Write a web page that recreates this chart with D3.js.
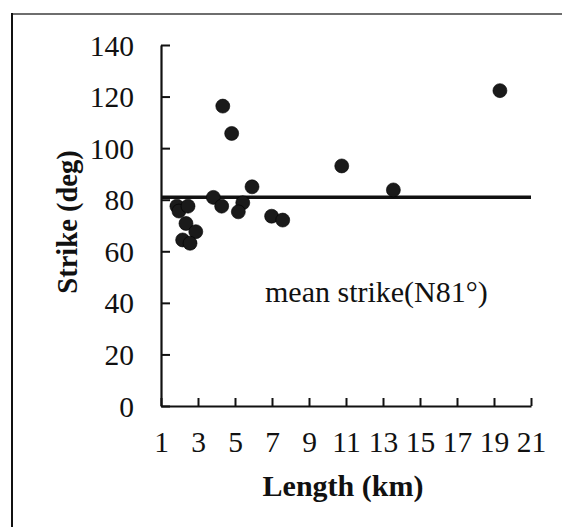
<!DOCTYPE html>
<html>
<head>
<meta charset="utf-8">
<script src="https://cdn.jsdelivr.net/npm/d3@7"></script>
<style>
  html, body { margin: 0; padding: 0; background: #fff; }
  svg { display: block; font-family: "Liberation Serif", "Times New Roman", serif; }
</style>
</head>
<body>
<svg id="chart" width="562" height="527"></svg>
<script>
// Fault length (km) vs. strike (deg)
const lengthKm = [1.86, 1.97, 2.46, 2.35, 2.88, 2.17, 2.57, 3.83, 4.28, 4.34, 4.82, 5.42, 5.18, 5.92, 6.98, 7.58, 10.77, 13.56, 19.32];
const strikeDeg = [77.5, 75.6, 77.5, 70.8, 67.6, 64.4, 63.1, 80.9, 77.5, 116.3, 105.7, 78.8, 75.3, 85.0, 73.6, 72.1, 93.1, 83.8, 122.3];
const meanStrike = 81;
const xTicks = [1, 3, 5, 7, 9, 11, 13, 15, 17, 19, 21];
const yTicks = [0, 20, 40, 60, 80, 100, 120, 140];

const svg = d3.select("#chart");
const margin = { left: 161, top: 45, right: 31, bottom: 121 };
const W = 562, H = 527;
const x = d3.scaleLinear().domain([1, 21]).range([margin.left, W - margin.right]);
const y = d3.scaleLinear().domain([0, 140]).range([H - margin.bottom, margin.top]);

// outer frame
svg.append("line").attr("x1", 12).attr("x2", W).attr("y1", 14).attr("y2", 14)
  .attr("stroke", "#6e6e6e").attr("stroke-width", 2);
svg.append("line").attr("x1", 12).attr("x2", 12).attr("y1", 13).attr("y2", H)
  .attr("stroke", "#111").attr("stroke-width", 2);

// axes with inward ticks
const xAxis = svg.append("g").attr("transform", `translate(0,${y(0)})`)
  .call(d3.axisBottom(x).tickValues(xTicks).tickSizeInner(-8).tickSizeOuter(0).tickPadding(25));
const yAxis = svg.append("g").attr("transform", `translate(${x(1)},0)`)
  .call(d3.axisLeft(y).tickValues(yTicks).tickSizeInner(-9).tickSizeOuter(0).tickPadding(27));
[xAxis, yAxis].forEach(g => {
  g.select(".domain").attr("stroke", "#111").attr("stroke-width", 2.2);
  g.selectAll(".tick line").attr("stroke", "#111").attr("stroke-width", 2);
  g.selectAll(".tick text").attr("fill", "#111")
    .style("font-family", "'Liberation Serif', 'Times New Roman', serif").style("font-size", "29.5px");
});
xAxis.selectAll(".tick text").attr("dy", "0.71em");
yAxis.selectAll(".tick text").attr("dy", "0.34em");

// mean strike line
svg.append("line")
  .attr("x1", x(1)).attr("x2", x(21))
  .attr("y1", y(meanStrike)).attr("y2", y(meanStrike))
  .attr("stroke", "#111").attr("stroke-width", 3.5);

// points
svg.append("g").selectAll("circle")
  .data(lengthKm.map((d, i) => [d, strikeDeg[i]]))
  .join("circle")
  .attr("cx", d => x(d[0])).attr("cy", d => y(d[1])).attr("r", 7)
  .attr("fill", "#1a1a1a").attr("stroke", "#000").attr("stroke-width", 0.6);

// annotation
svg.append("text").attr("x", 265).attr("y", 302)
  .style("font-size", "30px").attr("fill", "#111")
  .text(`mean strike(N${meanStrike}°)`);

// axis titles
svg.append("text").attr("x", 343).attr("y", 496).attr("text-anchor", "middle")
  .style("font-size", "30px").style("font-weight", "bold").attr("fill", "#111")
  .text("Length (km)");
svg.append("text").attr("transform", "translate(77,222) rotate(-90)").attr("text-anchor", "middle")
  .style("font-size", "28.5px").style("font-weight", "bold").attr("fill", "#111")
  .text("Strike (deg)");
</script>
</body>
</html>
